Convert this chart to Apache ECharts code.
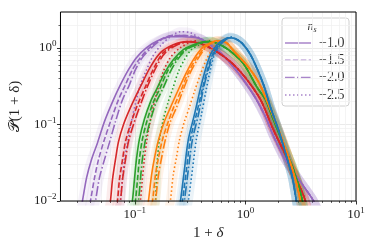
<!DOCTYPE html>
<html><head><meta charset="utf-8">
<script src="https://cdn.jsdelivr.net/npm/echarts@6/dist/echarts.min.js"></script>
<style>html,body{margin:0;padding:0;background:#fff}#c{width:374px;height:249px}</style>
</head><body><div id="c"></div>
<script>
// axis ranges and ticks (real values, plotted on log10 scale)
const xRange = [0.0213, 10];
const yRange = [0.01, 2.95];
const xMajorTicks = [0.1, 1, 10];
const xMinorTicks = [0.03,0.04,0.05,0.06,0.07,0.08,0.09,0.2,0.3,0.4,0.5,0.6,0.7,0.8,0.9,2,3,4,5,6,7,8,9];
const yMajorTicks = [0.01, 0.1, 1];
const yMinorTicks = [0.02,0.03,0.04,0.05,0.06,0.07,0.08,0.09,0.2,0.3,0.4,0.5,0.6,0.7,0.8,0.9,2];
const nsLabels = ['\u22121.0','\u22121.5','\u22122.0','\u22122.5'];

// curves: [1+delta, P]; rising branches per n_s (A=-1.0,B=-1.5,C=-2.0,D=-2.5), shared falling branch per colour
const blueRiseA = [[0.248,0.0073],[0.259,0.0101],[0.281,0.0257],[0.305,0.0633],[0.346,0.134],[0.392,0.294],[0.435,0.520],[0.483,0.817],[0.536,1.04],[0.594,1.21],[0.702,1.36]];
const blueRiseB = [[0.259,0.0073],[0.270,0.0101],[0.293,0.0257],[0.318,0.0633],[0.360,0.134],[0.409,0.294],[0.454,0.520],[0.504,0.817],[0.559,1.04],[0.620,1.21],[0.717,1.36]];
const blueRiseC = [[0.270,0.0073],[0.281,0.0101],[0.305,0.0257],[0.332,0.0633],[0.376,0.134],[0.417,0.294],[0.463,0.520],[0.514,0.817],[0.571,1.04],[0.633,1.21],[0.717,1.36]];
const blueRiseD = [[0.293,0.0073],[0.305,0.0101],[0.332,0.0257],[0.360,0.0633],[0.400,0.134],[0.444,0.294],[0.483,0.520],[0.525,0.817],[0.582,1.04],[0.645,1.24],[0.732,1.40]];
const blueFall = [[0.812,1.32],[0.940,1.14],[1.11,0.817],[1.31,0.490],[1.49,0.303],[1.68,0.171],[2.03,0.078],[2.40,0.0347],[2.66,0.0202],[2.89,0.0101],[3.01,0.0073]];

const orangeRiseA = [[0.128,0.0073],[0.133,0.0101],[0.142,0.0221],[0.151,0.0369],[0.164,0.0633],[0.185,0.109],[0.210,0.166],[0.243,0.268],[0.287,0.448],[0.339,0.703],[0.417,1.04],[0.483,1.17],[0.547,1.24]];
const orangeRiseB = [[0.139,0.0073],[0.145,0.0101],[0.154,0.0221],[0.164,0.0369],[0.178,0.0633],[0.201,0.109],[0.224,0.166],[0.259,0.268],[0.299,0.448],[0.353,0.703],[0.435,1.04],[0.493,1.17],[0.559,1.24]];
const orangeRiseC = [[0.148,0.0073],[0.154,0.0101],[0.164,0.0221],[0.175,0.0369],[0.189,0.0633],[0.210,0.109],[0.238,0.166],[0.270,0.268],[0.311,0.448],[0.368,0.703],[0.444,1.04],[0.504,1.17],[0.571,1.24]];
const orangeRiseD = [[0.201,0.0073],[0.210,0.0101],[0.223,0.0221],[0.238,0.0369],[0.254,0.0633],[0.281,0.109],[0.311,0.166],[0.346,0.268],[0.392,0.448],[0.444,0.703],[0.514,1.01],[0.571,1.17],[0.608,1.24]];
const orangeFall = [[0.673,1.17],[0.779,0.922],[1.04,0.587],[1.31,0.363],[1.55,0.211],[1.79,0.126],[2.16,0.0633],[2.55,0.0316],[2.89,0.0173],[3.14,0.0101],[3.27,0.0073]];

const greenRiseA = [[0.0914,0.0073],[0.0953,0.0101],[0.0993,0.0190],[0.1035,0.0347],[0.110,0.0633],[0.122,0.116],[0.139,0.199],[0.157,0.285],[0.189,0.490],[0.223,0.703],[0.275,0.95],[0.339,1.10],[0.435,1.21]];
const greenRiseB = [[0.0972,0.0073],[0.1014,0.0101],[0.1058,0.0190],[0.110,0.0347],[0.117,0.0633],[0.130,0.116],[0.148,0.199],[0.167,0.285],[0.197,0.490],[0.233,0.703],[0.287,0.95],[0.353,1.10],[0.444,1.21]];
const greenRiseC = [[0.1035,0.0073],[0.108,0.0101],[0.1125,0.0190],[0.117,0.0347],[0.125,0.0633],[0.139,0.116],[0.157,0.199],[0.178,0.285],[0.210,0.490],[0.243,0.703],[0.293,0.95],[0.360,1.10],[0.454,1.21]];
const greenRiseD = [[0.148,0.0073],[0.154,0.0101],[0.157,0.0190],[0.160,0.0347],[0.167,0.0633],[0.181,0.116],[0.201,0.199],[0.219,0.285],[0.248,0.490],[0.281,0.703],[0.325,0.95],[0.384,1.10],[0.473,1.24]];
const greenFall = [[0.536,1.17],[0.702,0.95],[0.959,0.624],[1.28,0.303],[1.52,0.211],[1.79,0.116],[2.21,0.0545],[2.66,0.0281],[3.01,0.0163],[3.27,0.0101],[3.41,0.0073]];

const redRiseA = [[0.0578,0.0073],[0.0603,0.0101],[0.0629,0.0190],[0.0669,0.0347],[0.0713,0.0596],[0.0790,0.0993],[0.0914,0.166],[0.1125,0.312],[0.139,0.570],[0.171,0.868],[0.223,1.10],[0.299,1.21]];
const redRiseB = [[0.0669,0.0073],[0.0698,0.0101],[0.0727,0.0190],[0.0775,0.0347],[0.0824,0.0596],[0.0914,0.0993],[0.1035,0.166],[0.125,0.312],[0.151,0.570],[0.181,0.868],[0.233,1.10],[0.311,1.21]];
const redRiseC = [[0.0713,0.0073],[0.0743,0.0101],[0.0775,0.0190],[0.0824,0.0347],[0.0877,0.0596],[0.0972,0.0993],[0.110,0.166],[0.130,0.312],[0.157,0.570],[0.189,0.868],[0.243,1.10],[0.318,1.21]];
const redRiseD = [[0.108,0.0073],[0.1125,0.0101],[0.117,0.0190],[0.122,0.0347],[0.128,0.0596],[0.136,0.0993],[0.145,0.156],[0.161,0.285],[0.181,0.490],[0.210,0.747],[0.259,1.01],[0.353,1.24]];
const redFall = [[0.392,1.14],[0.514,0.95],[0.732,0.662],[1.0,0.409],[1.37,0.211],[1.79,0.0855],[2.30,0.0403],[2.77,0.0221],[3.27,0.0129],[3.48,0.0101],[3.63,0.0073]];

const purpleRiseA = [[0.0323,0.0073],[0.0337,0.0101],[0.0367,0.0202],[0.0406,0.0347],[0.0461,0.0579],[0.0532,0.109],[0.0642,0.211],[0.0743,0.331],[0.0878,0.520],[0.1035,0.747],[0.128,1.01],[0.161,1.24],[0.210,1.40],[0.270,1.40]];
const purpleRiseB = [[0.0382,0.0073],[0.0398,0.0101],[0.0433,0.0202],[0.0470,0.0347],[0.0521,0.0579],[0.0603,0.109],[0.0713,0.211],[0.0824,0.331],[0.0953,0.520],[0.1125,0.747],[0.136,1.01],[0.171,1.28],[0.219,1.45],[0.281,1.45]];
const purpleRiseC = [[0.0424,0.0073],[0.0442,0.0101],[0.0480,0.0202],[0.0532,0.0347],[0.0590,0.0579],[0.0669,0.109],[0.0775,0.211],[0.0895,0.331],[0.1014,0.520],[0.117,0.747],[0.142,1.01],[0.175,1.28],[0.223,1.45],[0.287,1.45]];
const purpleRiseD = [[0.0713,0.0073],[0.0743,0.0101],[0.0775,0.0202],[0.0807,0.0347],[0.0859,0.0579],[0.0933,0.109],[0.1035,0.211],[0.1125,0.331],[0.128,0.520],[0.145,0.770],[0.171,1.07],[0.210,1.40],[0.259,1.63],[0.318,1.58]];
const purpleFall = [[0.392,1.32],[0.483,1.10],[0.594,0.868],[0.763,0.587],[0.959,0.385],[1.23,0.224],[1.52,0.126],[1.79,0.0714],[2.21,0.0380],[2.83,0.0221],[3.48,0.0145],[4.12,0.0101],[4.57,0.0073]];

const groups = [
  {color:'#9467bd', rises:[purpleRiseA,purpleRiseB,purpleRiseC,purpleRiseD], fall:purpleFall},
  {color:'#d62728', rises:[redRiseA,redRiseB,redRiseC,redRiseD], fall:redFall},
  {color:'#2ca02c', rises:[greenRiseA,greenRiseB,greenRiseC,greenRiseD], fall:greenFall},
  {color:'#ff7f0e', rises:[orangeRiseA,orangeRiseB,orangeRiseC,orangeRiseD], fall:orangeFall},
  {color:'#1f77b4', rises:[blueRiseA,blueRiseB,blueRiseC,blueRiseD], fall:blueFall}
];
const dashes = ['solid', [5.5,2.4], [9.6,2.4,1.5,2.4], [1.5,2.5]];
const lg = v => Math.log10(v);
const toLog = arr => arr.map(p => [lg(p[0]), lg(p[1])]);

const series = [];
groups.forEach(g => g.rises.forEach(r => {
  series.push({type:'line', data: toLog(r.concat(g.fall)), showSymbol:false, smooth:0.3, silent:true,
    lineStyle:{color:g.color, width:9, opacity:0.09, cap:'round', join:'round'}, z:1});
}));
groups.forEach(g => g.rises.forEach((r,i) => {
  series.push({type:'line', name: nsLabels[i], data: toLog(r.concat(g.fall)), showSymbol:false, smooth:0.3, silent:true,
    lineStyle:{color:g.color, width:1.6, type:dashes[i]}, z:3});
}));

const FONT = 'Liberation Serif';
const fmt = v => { const e = Math.round(v); return '{b|10}{s|' + (e < 0 ? '\u2212' + (-e) : e) + '}'; };
const rich = { b:{fontSize:13, fontFamily:FONT, color:'#222'}, s:{fontSize:9, fontFamily:FONT, color:'#222', padding:[0,0,8,0]} };
const baseAxis = {type:'value', axisLine:{show:false, onZero:false}};

const chart = echarts.init(document.getElementById('c'), null, {renderer:'canvas'});
chart.setOption({
  animation:false,
  grid:{left:60, right:18, top:12, bottom:48, show:true, borderColor:'#000', borderWidth:1, backgroundColor:'transparent', z:5},
  xAxis:[
    Object.assign({}, baseAxis, {position:'bottom', min:lg(xRange[0]), max:lg(xRange[1]),
     axisTick:{show:true, customValues:xMajorTicks.map(lg), length:3.5, lineStyle:{color:'#000', width:0.8}},
     axisLabel:{customValues:xMajorTicks.map(lg), formatter:fmt, rich:rich, margin:5},
     splitLine:{show:true, lineStyle:{color:'#e4e4e4', width:0.8}},
     name:'{r|1 + }{i|\u03b4}', nameLocation:'middle', nameGap:21,
     nameTextStyle:{rich:{r:{fontSize:15, fontFamily:FONT, color:'#222'}, i:{fontSize:15, fontFamily:FONT, fontStyle:'italic', color:'#222'}}}}),
    Object.assign({}, baseAxis, {position:'bottom', min:lg(xRange[0]), max:lg(xRange[1]),
     axisTick:{show:true, customValues:xMinorTicks.map(lg), length:2, lineStyle:{color:'#000', width:0.6}},
     axisLabel:{show:false},
     splitLine:{show:true, lineStyle:{color:'#f1f1f1', width:0.8}}})
  ],
  yAxis:[
    Object.assign({}, baseAxis, {position:'left', min:lg(yRange[0]), max:lg(yRange[1]),
     axisTick:{show:true, customValues:yMajorTicks.map(lg), length:3.5, lineStyle:{color:'#000', width:0.8}},
     axisLabel:{customValues:yMajorTicks.map(lg), formatter:fmt, rich:rich, margin:4},
     splitLine:{show:true, lineStyle:{color:'#e4e4e4', width:0.8}},
     name:'\ud835\udcab(1 + \u03b4)', nameLocation:'middle', nameGap:33, nameRotate:90,
     nameTextStyle:{fontSize:15, fontFamily:FONT, color:'#222'}}),
    Object.assign({}, baseAxis, {position:'left', min:lg(yRange[0]), max:lg(yRange[1]),
     axisTick:{show:true, customValues:yMinorTicks.map(lg), length:2, lineStyle:{color:'#000', width:0.6}},
     axisLabel:{show:false},
     splitLine:{show:true, lineStyle:{color:'#f1f1f1', width:0.8}}})
  ],
  series: series,
  graphic:[{type:'group', z:100, children:[
    {type:'rect', shape:{x:282, y:18, width:67, height:88, r:3}, style:{fill:'rgba(255,255,255,0.85)', stroke:'#d0d0d0', lineWidth:1}},
    {type:'text', x:312, y:27, style:{text:'{i|n}{u|s}', align:'center', verticalAlign:'middle',
      rich:{i:{fontSize:12, fontFamily:FONT, fontStyle:'italic', fill:'#333'}, u:{fontSize:8, fontFamily:FONT, fontStyle:'italic', fill:'#333', padding:[5,0,0,0]}}}},
  ].concat(nsLabels.flatMap((t,i) => {
    const y = 43 + i*17.3;
    return [
      {type:'line', shape:{x1:285, y1:y, x2:311, y2:y}, style:{stroke:'#9467bd', opacity:0.8, lineWidth:1.5, lineDash: i===0 ? null : dashes[i]}},
      {type:'text', x:319, y:y, style:{text:t, fontSize:14, fontFamily:FONT, fill:'#333', verticalAlign:'middle'}}
    ];
  }))}]
});
</script></body></html>
